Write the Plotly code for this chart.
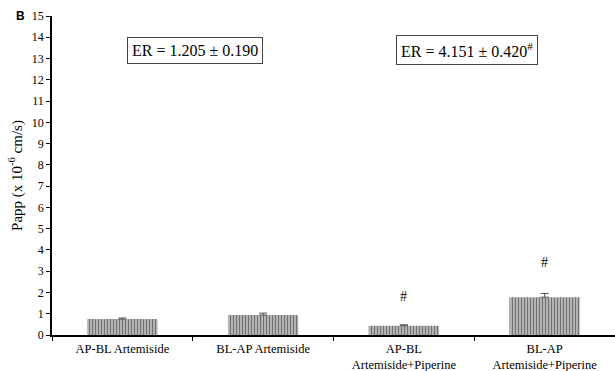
import plotly.graph_objects as go

# Apparent permeability by transport direction
categories = ["AP-BL Artemiside", "BL-AP Artemiside",
              "AP-BL<br>Artemiside+Piperine", "BL-AP<br>Artemiside+Piperine"]
papp = [0.75, 0.94, 0.44, 1.78]
papp_sd = [0.05, 0.09, 0.04, 0.17]
sig_y = [None, None, 1.83, 3.4]
y_ticks = list(range(0, 16))
er_texts = ["ER = 1.205 ± 0.190", "ER = 4.151 ± 0.420<sup>#</sup>"]

serif = "Liberation Serif, Times New Roman, serif"

fig = go.Figure()
fig.add_trace(go.Bar(
    x=categories, y=papp, width=0.5,
    marker=dict(color="white", line=dict(width=0),
                pattern=dict(shape="|", size=3, solidity=0.6,
                             fgcolor="#000000", bgcolor="#e0e0e0")),
    error_y=dict(type="data", array=papp_sd, symmetric=False, arrayminus=[0]*4,
                 color="#555555", thickness=1, width=4),
    showlegend=False,
))

for c, s in zip(categories, sig_y):
    if s is not None:
        fig.add_annotation(x=c, y=s, text="#", showarrow=False,
                           font=dict(family=serif, size=14, color="black"))

for xp, t in zip([0.254, 0.737], er_texts):
    fig.add_annotation(x=xp, xref="paper", y=0.893, yref="paper", text=t,
                       xanchor="center", yanchor="middle",
                       showarrow=False, bordercolor="#444444", borderwidth=1,
                       borderpad=4, bgcolor="white",
                       font=dict(family=serif, size=16, color="black"))

fig.add_annotation(x=-0.068, xref="paper", y=1.0, yref="paper",
                   text="<b>B</b>", showarrow=False, xanchor="left", yanchor="middle",
                   font=dict(family="Arial, Liberation Sans, sans-serif", size=12, color="black"))

fig.update_layout(
    width=615, height=371,
    margin=dict(l=52, r=0, t=16, b=36),
    paper_bgcolor="white", plot_bgcolor="white",
    bargap=0.5,
    font=dict(family=serif, size=13, color="black"),
    xaxis=dict(range=[-0.5, 3.5], showline=True, linecolor="black", linewidth=1.5,
               ticks="outside", tickson="boundaries", ticklen=4, tickcolor="black",
               ticklabelstandoff=1, automargin=False,
               showgrid=False, tickfont=dict(family=serif, size=12.5)),
    yaxis=dict(range=[0, 15], tickvals=y_ticks, showline=True, linecolor="black",
               linewidth=1.5, ticks="outside", ticklen=4, tickcolor="black",
               automargin=False,
               showgrid=False, zeroline=False, tickfont=dict(family=serif, size=12),
               title=dict(text="Papp (x 10<sup>-6</sup> cm/s)", standoff=6,
                          font=dict(family=serif, size=15))),
)

fig.write_html("out.html")
